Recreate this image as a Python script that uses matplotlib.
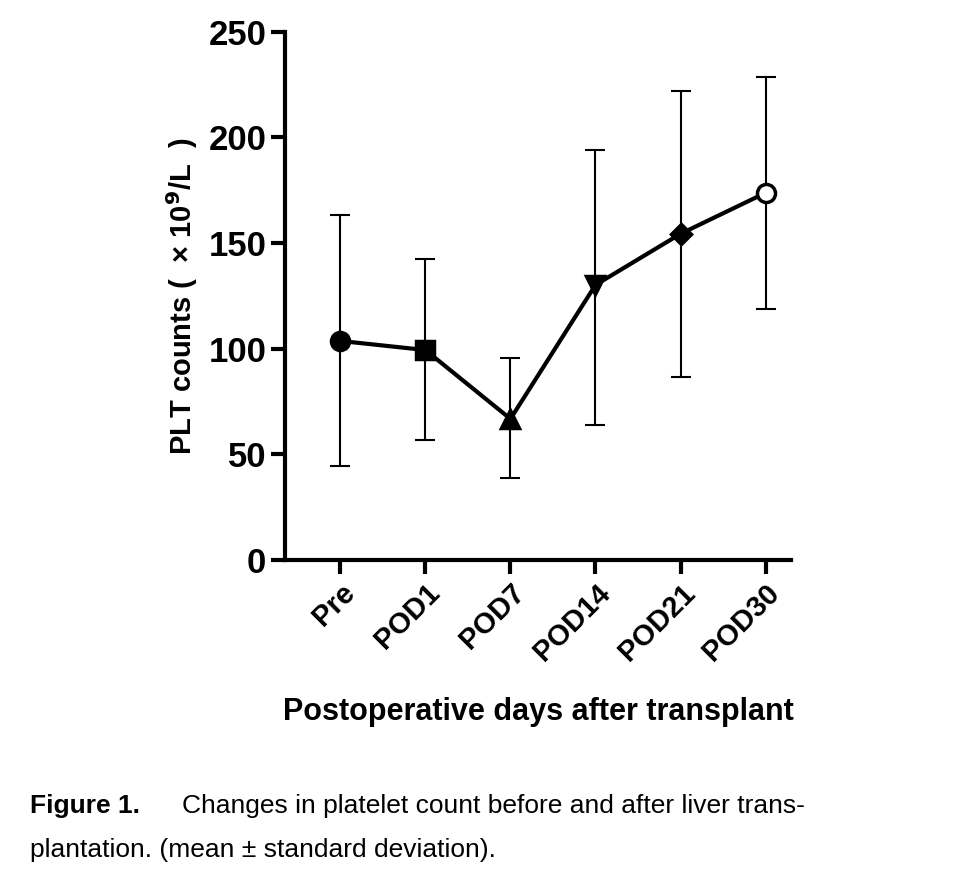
import matplotlib
matplotlib.use("Agg")
import matplotlib.pyplot as plt

plt.rcParams['font.family'] = ['Liberation Sans', 'DejaVu Sans']

groups = ['Pre', 'POD1', 'POD7', 'POD14', 'POD21', 'POD30']
means = [103.7, 99.4, 66.8, 130.2, 154.4, 173.8]
upper = [163.4, 142.5, 95.6, 194.1, 222.0, 228.7]
lower = [44.5, 56.8, 38.8, 63.9, 86.6, 118.8]
markers = ['o', 's', '^', 'v', 'D', 'o']

x = list(range(len(groups)))
err_lo = [m - l for m, l in zip(means, lower)]
err_hi = [u - m for m, u in zip(means, upper)]

fig = plt.figure(figsize=(9.6, 8.73), dpi=100)
ax = fig.add_axes([0.297, 0.3585, 0.527, 0.605])

ax.errorbar(x, means, yerr=[err_lo, err_hi], fmt='none', ecolor='black',
            elinewidth=1.5, capsize=7, capthick=1.5, zorder=1)
ax.plot(x, means, color='black', lw=3, zorder=2)
for xi, m, mk in zip(x, means, markers):
    face = 'white' if groups[xi] == 'POD30' else 'black'
    size = 10 if mk == 'D' else 13
    ax.plot(xi, m, marker=mk, ms=size, mfc=face, mec='black', mew=2.5, zorder=3)

ax.set_xlim(-0.65, 5.3)
ax.set_ylim(0, 250)
ax.set_yticks([0, 50, 100, 150, 200, 250])
ax.set_xticks(x)
ax.set_xticklabels(groups, rotation=45, ha='right', rotation_mode='anchor')
for s in ['top', 'right']:
    ax.spines[s].set_visible(False)
for s in ['left', 'bottom']:
    ax.spines[s].set_linewidth(3)
ax.tick_params(width=3, length=10)
ax.tick_params(axis='y', labelsize=25)
ax.tick_params(axis='x', labelsize=21)
for lab in ax.get_xticklabels() + ax.get_yticklabels():
    lab.set_fontweight('bold')

ax.set_ylabel('PLT counts (  × 10$^\\mathbf{9}$/L  )', fontsize=21, fontweight='bold', labelpad=6)
ax.set_xlabel('Postoperative days after transplant', fontsize=22, fontweight='bold', labelpad=22)

fig.text(0.031, 0.077, 'Figure 1.', fontsize=19, fontweight='bold', va='center')
fig.text(0.19, 0.077, 'Changes in platelet count before and after liver trans-', fontsize=19, va='center')
fig.text(0.031, 0.026, 'plantation. (mean ± standard deviation).', fontsize=19, va='center')

fig.savefig('out.png', dpi=100)
